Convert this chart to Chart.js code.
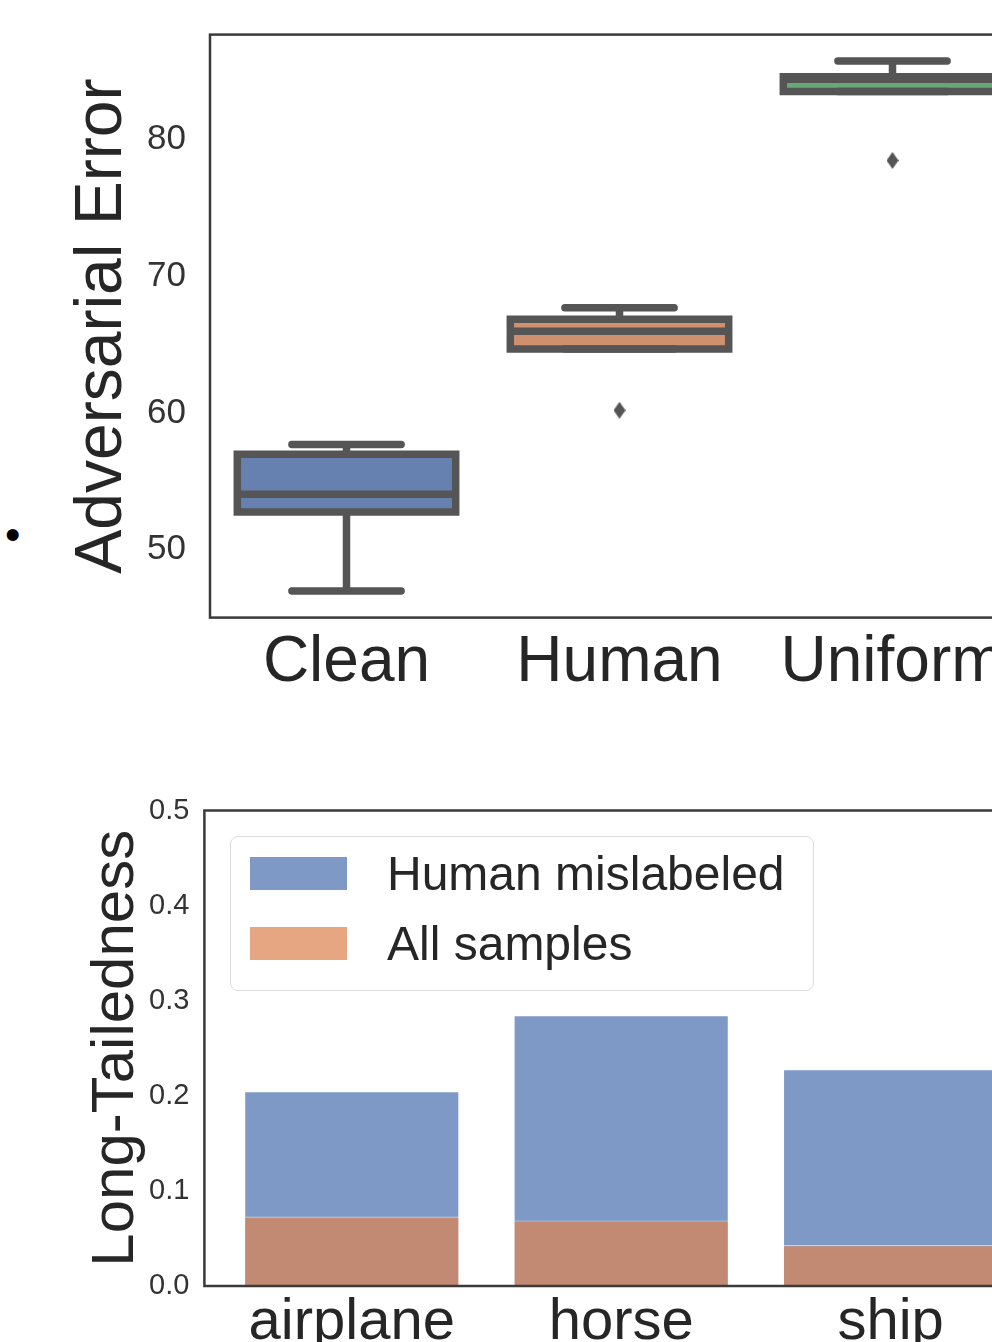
<!DOCTYPE html>
<html>
<head>
<meta charset="utf-8">
<script src="https://cdn.jsdelivr.net/npm/chart.js@4.4.1/dist/chart.umd.min.js"></script>
<style>
  html, body { margin: 0; padding: 0; overflow: hidden; background: #fff; width: 992px; height: 1342px; }
  body { position: relative; font-family: 'Liberation Sans', Arial, sans-serif; color: #262626; }
  #box-chart { position: absolute; left: 0; top: 0; }
  #bar-chart { position: absolute; left: 0; top: 760px; }
  .bullet { position: absolute; left: 5px; top: 511px; font-size: 44px; line-height: 48px; color: #000; }
  .legend { position: absolute; left: 230px; top: 836px; width: 582px; height: 153px;
            border: 1.5px solid #dcdcdc; border-radius: 8px; background: rgba(255,255,255,0.8); }
  .legend .item { position: absolute; left: 19px; height: 34px; }
  .legend .swatch { position: absolute; left: 0; top: 0; width: 97px; height: 33px; }
  .legend .label { position: absolute; left: 137px; top: -9px; font-size: 48px; line-height: 52px; white-space: nowrap; color: #262626; }
</style>
</head>
<body>
<span class="bullet">•</span>
<canvas id="box-chart" width="1036" height="720"></canvas>
<canvas id="bar-chart" width="1038" height="640"></canvas>
<div class="legend">
  <div class="item" style="top:20px"><div class="swatch" id="sw-human"></div><div class="label">Human mislabeled</div></div>
  <div class="item" style="top:90px"><div class="swatch" id="sw-all"></div><div class="label">All samples</div></div>
</div>
<script>
// --- Box plot data (Adversarial Error) ---
const boxCategories = ['Clean', 'Human', 'Uniform'];
const boxQ1 = [52.76, 64.69, 83.53];
const boxMedian = [54.06, 65.99, 84.43];
const boxQ3 = [56.99, 66.88, 84.61];
const whiskerLow = [46.98, 64.69, 83.53];
const whiskerHigh = [57.71, 67.71, 85.76];
const outliers = [[], [60.21], [78.49]];
const boxColors = ['#6680b0', '#cf916d', '#66a877'];
const boxYTicks = [50, 60, 70, 80];

// --- Bar data (Long-Tailedness) ---
const barCategories = ['airplane', 'horse', 'ship'];
const humanMislabeled = [0.205, 0.285, 0.228];
const allSamples = [0.073, 0.069, 0.043];
const barYTicks = [0, 0.1, 0.2, 0.3, 0.4, 0.5];

const LINE = '#555555';
const TEXT = '#262626';
const BLUE = 'rgba(76,114,176,0.72)';
const ORANGE = 'rgba(221,132,82,0.72)';
const SANS = "'Liberation Sans', Arial, sans-serif";

document.getElementById('sw-human').style.background = BLUE;
document.getElementById('sw-all').style.background = ORANGE;

// frame around the plot area, like matplotlib spines
const framePlugin = {
  id: 'frame',
  afterDraw(chart) {
    const { ctx, chartArea: a } = chart;
    ctx.save();
    ctx.strokeStyle = '#3a3a3a';
    ctx.lineWidth = 2.5;
    ctx.strokeRect(a.left, a.top, a.right - a.left, a.bottom - a.top);
    ctx.restore();
  }
};

// line segments separated by gaps
function segments(list) {
  const out = [];
  list.forEach(seg => {
    seg.forEach(p => out.push({ x: p[0], y: p[1] }));
    out.push({ x: seg[seg.length - 1][0], y: null });
  });
  return out;
}

function lineSet(data, width, cap, join) {
  return {
    type: 'line', data, borderColor: LINE, borderWidth: width,
    borderCapStyle: cap || 'butt', borderJoinStyle: join || 'miter',
    pointRadius: 0, fill: false, tension: 0, spanGaps: false
  };
}

// thin diamond marker
const diamond = document.createElement('canvas');
diamond.width = 12; diamond.height = 17;
(() => {
  const c = diamond.getContext('2d');
  c.fillStyle = LINE;
  c.beginPath();
  c.moveTo(6, 0); c.lineTo(12, 8.5); c.lineTo(6, 17); c.lineTo(0, 8.5);
  c.closePath(); c.fill();
})();

const idx = boxCategories.map((c, i) => i);
const boxOutline = segments(idx.map(i => [
  [i - 0.4, boxQ1[i]], [i + 0.4, boxQ1[i]], [i + 0.4, boxQ3[i]], [i - 0.4, boxQ3[i]], [i - 0.4, boxQ1[i]]
]));
const medianLines = segments(idx.map(i => [[i - 0.4, boxMedian[i]], [i + 0.4, boxMedian[i]]]));
const whiskers = segments([].concat(
  idx.map(i => [[i, boxQ3[i]], [i, whiskerHigh[i]]]),
  idx.map(i => [[i, boxQ1[i]], [i, whiskerLow[i]]])
));
const caps = segments([].concat(
  idx.map(i => [[i - 0.2, whiskerHigh[i]], [i + 0.2, whiskerHigh[i]]]),
  idx.map(i => [[i - 0.2, whiskerLow[i]], [i + 0.2, whiskerLow[i]]])
));
const fliers = [];
outliers.forEach((vals, i) => vals.forEach(v => fliers.push({ x: i, y: v })));

new Chart(document.getElementById('box-chart'), {
  type: 'bar',
  data: {
    datasets: [
      { type: 'line', data: fliers, showLine: false, pointStyle: diamond, pointRadius: 6 },
      lineSet(caps, 7.5, 'round'),
      lineSet(whiskers, 7.5),
      lineSet(medianLines, 7.5),
      lineSet(boxOutline, 7.5, 'square', 'miter'),
      {
        type: 'bar',
        data: idx.map(i => ({ x: i, y: [boxQ1[i], boxQ3[i]] })),
        backgroundColor: boxColors, borderWidth: 0,
        barPercentage: 0.8, categoryPercentage: 1
      }
    ]
  },
  options: {
    responsive: false, animation: false,
    layout: { padding: { top: 34.6, left: 0, right: 0, bottom: 0 } },
    plugins: { legend: { display: false }, tooltip: { enabled: false } },
    scales: {
      x: {
        type: 'linear', min: -0.5, max: 2.5, offset: false,
        grid: { display: false, drawTicks: false, tickLength: 0 }, border: { display: false },
        afterBuildTicks: axis => { axis.ticks = idx.map(v => ({ value: v })); },
        afterFit: scale => { scale.height = 720 - 617.6; },
        ticks: {
          padding: 14, maxRotation: 0, autoSkip: false, color: TEXT,
          font: { family: SANS, size: 64, lineHeight: 1 },
          callback: v => boxCategories[v]
        }
      },
      y: {
        type: 'linear', min: 45.04, max: 87.7,
        grid: { display: false, drawTicks: false, tickLength: 0 }, border: { display: false },
        afterBuildTicks: axis => { axis.ticks = boxYTicks.map(v => ({ value: v })); },
        afterFit: scale => { scale.width = 210; },
        ticks: { padding: 24, color: '#333', font: { family: SANS, size: 35, lineHeight: 0.4 }, callback: v => String(v) },
        title: {
          display: true, text: 'Adversarial Error', color: TEXT,
          font: { family: SANS, size: 66, lineHeight: 1 }, padding: { top: 70, bottom: 0 }
        }
      }
    }
  },
  plugins: [framePlugin]
});

const barIdx = barCategories.map((c, i) => i);

new Chart(document.getElementById('bar-chart'), {
  type: 'bar',
  data: {
    datasets: [
      {
        label: 'All samples', order: 1,
        data: barIdx.map(i => ({ x: i, y: allSamples[i] })),
        backgroundColor: ORANGE, borderColor: 'rgba(255,255,255,0.55)', borderWidth: 1.2,
        barPercentage: 0.8, categoryPercentage: 1, grouped: false
      },
      {
        label: 'Human mislabeled', order: 2,
        data: barIdx.map(i => ({ x: i, y: humanMislabeled[i] })),
        backgroundColor: BLUE, borderColor: 'rgba(255,255,255,0.55)', borderWidth: 1.2,
        barPercentage: 0.8, categoryPercentage: 1, grouped: false
      }
    ]
  },
  options: {
    responsive: false, animation: false,
    layout: { padding: { top: 50.5, left: 0, right: 0, bottom: 0 } },
    plugins: { legend: { display: false }, tooltip: { enabled: false } },
    scales: {
      x: {
        type: 'linear', min: -0.547, max: 2.547, offset: false,
        grid: { display: false, drawTicks: false, tickLength: 0 }, border: { display: false },
        afterBuildTicks: axis => { axis.ticks = barIdx.map(v => ({ value: v })); },
        afterFit: scale => { scale.height = 640 - 526; },
        ticks: {
          padding: 8, maxRotation: 0, autoSkip: false, color: TEXT,
          font: { family: SANS, size: 58, lineHeight: 1 },
          callback: v => barCategories[v]
        }
      },
      y: {
        type: 'linear', min: 0, max: 0.5,
        grid: { display: false, drawTicks: false, tickLength: 0 }, border: { display: false },
        afterBuildTicks: axis => { axis.ticks = barYTicks.map(v => ({ value: v })); },
        afterFit: scale => { scale.width = 204.4; },
        ticks: { padding: 15, color: '#333', font: { family: SANS, size: 29, lineHeight: 0.4 }, callback: v => v.toFixed(1) },
        title: {
          display: true, text: 'Long-Tailedness', color: TEXT,
          font: { family: SANS, size: 60, lineHeight: 1 }, padding: { top: 86, bottom: 0 }
        }
      }
    }
  },
  plugins: [framePlugin]
});
</script>
</body>
</html>
